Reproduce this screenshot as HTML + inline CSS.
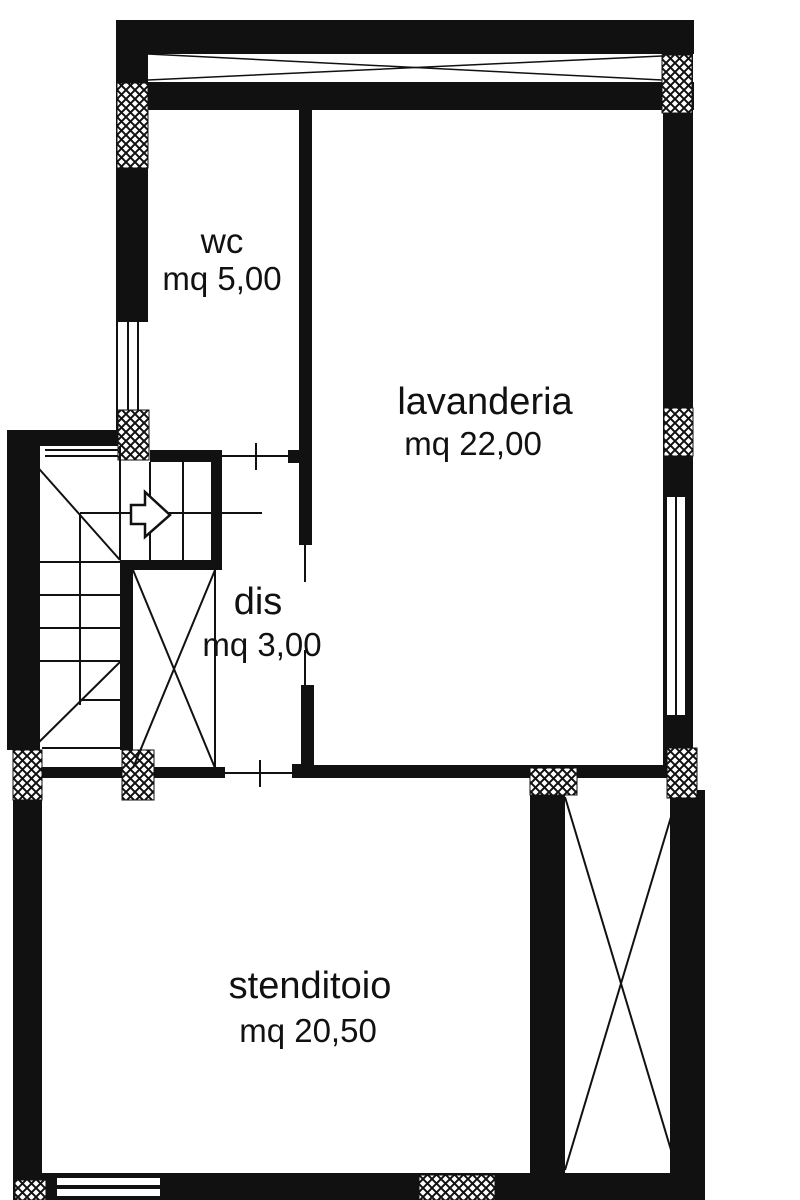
<!DOCTYPE html>
<html><head><meta charset="utf-8"><style>
html,body{margin:0;padding:0;background:#fff;width:800px;height:1200px;overflow:hidden}
text{font-family:"Liberation Sans",sans-serif;fill:#111}
</style></head><body>
<svg width="800" height="1200" viewBox="0 0 800 1200" xmlns="http://www.w3.org/2000/svg">
<defs>
<pattern id="h" width="9" height="9" patternUnits="userSpaceOnUse">
<rect width="9" height="9" fill="#fff"/>
<path d="M0 0L9 9M9 0L0 9" stroke="#111" stroke-width="2"/>
</pattern>
</defs>
<g fill="#111">
<rect x="116" y="20" width="578" height="34"/>
<rect x="116" y="82" width="578" height="28"/>
<rect x="116" y="20" width="32" height="412"/>
<rect x="662" y="20" width="30" height="90"/>
<rect x="663" y="20" width="30" height="750"/>
<rect x="299" y="110" width="13" height="435"/>
<rect x="301" y="685" width="13" height="90"/>
<rect x="288" y="450" width="12" height="13"/>
<rect x="292" y="764" width="12" height="14"/>
<rect x="7" y="430" width="33" height="320"/>
<rect x="7" y="430" width="113" height="16"/>
<rect x="150" y="450" width="72" height="12"/>
<rect x="211" y="450" width="11" height="120"/>
<rect x="120" y="560" width="102" height="10"/>
<rect x="120" y="560" width="13" height="190"/>
<rect x="42" y="767" width="183" height="11"/>
<rect x="295" y="765" width="402" height="13"/>
<rect x="13" y="790" width="29" height="400"/>
<rect x="530" y="790" width="35" height="390"/>
<rect x="670" y="790" width="35" height="410"/>
<rect x="13" y="1173" width="692" height="27"/>
</g>
<rect x="148" y="54" width="514" height="28" fill="#fff"/>
<path d="M148 54L662 80M148 80L662 56" stroke="#111" stroke-width="1.5" fill="none"/>
<rect x="118" y="322" width="30" height="88" fill="#fff"/>
<path d="M128 322V410M138 322V410" stroke="#111" stroke-width="2"/>
<rect x="116" y="322" width="2" height="88" fill="#111"/>
<rect x="667" y="497" width="18" height="218" fill="#fff"/>
<path d="M676 497V715" stroke="#111" stroke-width="2"/>
<path d="M45 450H120M45 456H120" stroke="#111" stroke-width="2"/>
<g fill="url(#h)" stroke="#111" stroke-width="1">
<rect x="117" y="83" width="31" height="85"/>
<rect x="662" y="55" width="30" height="58"/>
<rect x="664" y="408" width="29" height="48"/>
<rect x="118" y="410" width="31" height="50"/>
<rect x="13" y="750" width="29" height="50"/>
<rect x="122" y="750" width="32" height="50"/>
<rect x="530" y="768" width="47" height="27"/>
<rect x="667" y="748" width="30" height="50"/>
<rect x="15" y="1180" width="31" height="20"/>
<rect x="419" y="1175" width="76" height="25"/>
</g>
<rect x="57" y="1178" width="103" height="7" fill="#fff"/>
<rect x="57" y="1189" width="103" height="7" fill="#fff"/>
<g stroke="#111" stroke-width="2" fill="none">
<path d="M33 462L120 560M33 748L120 662"/>
<path d="M40 562H120M40 595H120M40 628H120M40 661H120M80 700H120"/>
<path d="M80 513V705"/>
<path d="M80 513H262"/>
<path d="M120 446V560M150 462V560M183 462V560"/>
<path d="M42 748H120"/>
<path d="M131 505H145V492L170 515L145 537V524H131Z" fill="#fff" stroke-width="2.5"/>
<path d="M133 570L215 768M215 570L133 768M215 570V768"/>
<path d="M565 797L677 1170M677 797L565 1170"/>
<path d="M222 456H292M256 443V470"/>
<path d="M225 773H295M260 760V787"/>
<path d="M305 545V582M305 650V685"/>
</g>
<text x="222" y="253" font-size="35" text-anchor="middle">wc</text>
<text x="222" y="290" font-size="33" text-anchor="middle">mq 5,00</text>
<text x="485" y="414" font-size="38" text-anchor="middle">lavanderia</text>
<text x="473" y="455" font-size="33" text-anchor="middle">mq 22,00</text>
<text x="258" y="614" font-size="38" text-anchor="middle">dis</text>
<text x="262" y="656" font-size="33" text-anchor="middle">mq 3,00</text>
<text x="310" y="998" font-size="38" text-anchor="middle">stenditoio</text>
<text x="308" y="1042" font-size="33" text-anchor="middle">mq 20,50</text>
</svg>
</body></html>
